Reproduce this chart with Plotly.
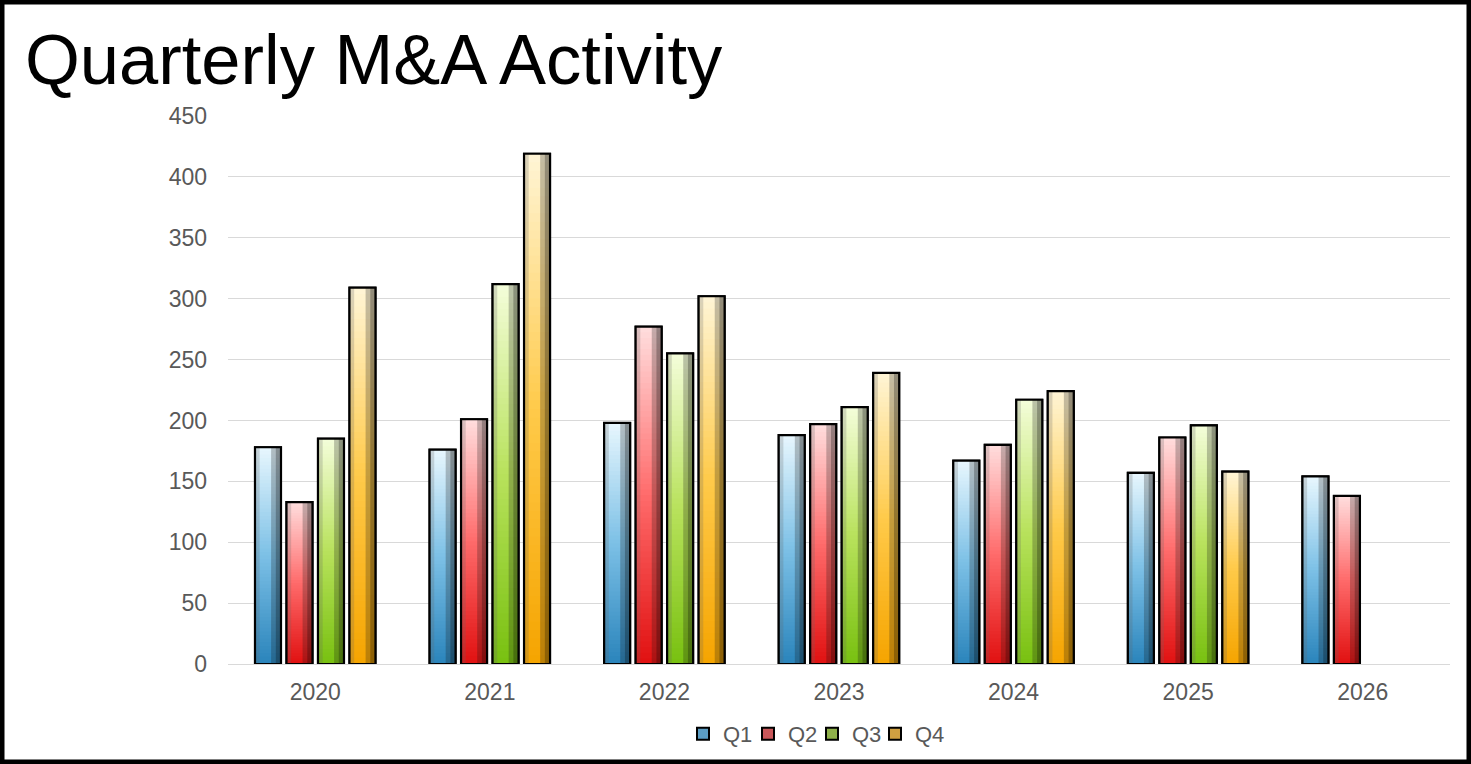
import plotly.graph_objects as go

# ---------------- data ----------------
years = ["2020", "2021", "2022", "2023", "2024", "2025", "2026"]
quarters = ["Q1", "Q2", "Q3", "Q4"]
q1 = [178, 176, 198, 188, 167, 157, 154]
q2 = [133, 201, 277, 197, 180, 186, 138]
q3 = [185, 312, 255, 211, 217, 196, None]
q4 = [309, 419, 302, 239, 224, 158, None]
y_ticks = [0, 50, 100, 150, 200, 250, 300, 350, 400, 450]
title_text = "Quarterly M&A Activity"

series = [q1, q2, q3, q4]

# ---------------- styling ----------------
# (bottom, middle, top) colours of the vertical gradient per quarter
palette = [
    ("#2a84bb", "#7cc0e6", "#e8f7fe"),
    ("#e01010", "#ff6b6b", "#ffdede"),
    ("#78c010", "#b8e25c", "#f4fdda"),
    ("#f5a400", "#ffca4a", "#fff5d6"),
]
legend_fill = ["#5b9dc4", "#c9575a", "#8fb04a", "#d0a041"]
legend_box_px = [697, 762, 826, 889]   # left edge of each legend swatch (px)

W, H = 1471, 764
ML, MR, MT, MB = 228, 21, 116, 100
PW, PH = W - ML - MR, H - MT - MB
BAR_W = 0.149
SLOT = 0.1804
FIRST = -0.3454
N_SEG = 60


def hex2rgb(h):
    h = h.lstrip("#")
    return tuple(int(h[i:i + 2], 16) for i in (0, 2, 4))


def mix(a, b, t):
    return tuple(a[i] + (b[i] - a[i]) * t for i in range(3))


def grad(stops, t):
    b, m, tp = (hex2rgb(s) for s in stops)
    if t < 0.5:
        c = mix(b, m, t / 0.5)
    else:
        c = mix(m, tp, (t - 0.5) / 0.5)
    return "rgb(%d,%d,%d)" % tuple(round(v) for v in c)


legend_ids = ["legend", "legend2", "legend3", "legend4"]
fig = go.Figure()

for k, (qname, vals) in enumerate(zip(quarters, series)):
    off = FIRST + k * SLOT
    # base bar (also provides the legend entry)
    fig.add_trace(go.Bar(
        x=years, y=vals, name=qname, offset=off, width=BAR_W,
        marker=dict(color=legend_fill[k], line=dict(color="black", width=2)),
        showlegend=True, legend=legend_ids[k], hoverinfo="skip",
    ))
    # vertical gradient bands
    for i in range(N_SEG):
        frac = i / N_SEG
        bases = [None if v is None else v * frac for v in vals]
        hts = [None if v is None else v * (1 - frac) for v in vals]
        t = (i + 0.5) / N_SEG
        fig.add_trace(go.Bar(
            x=years, y=hts, base=bases, offset=off, width=BAR_W,
            marker=dict(color=grad(palette[k], t), line=dict(width=0)),
            showlegend=False, hoverinfo="skip",
        ))
    # horizontal bevel shading
    shade = [
        (0.0, 0.18, "rgba(100,100,100,0.24)"),
        (0.62, 0.38, "rgba(20,20,20,0.25)"),
        (0.80, 0.20, "rgba(0,0,0,0.25)"),
    ]
    for s0, sw, col in shade:
        fig.add_trace(go.Bar(
            x=years, y=vals, offset=off + s0 * BAR_W, width=sw * BAR_W,
            marker=dict(color=col, line=dict(width=0)),
            showlegend=False, hoverinfo="skip",
        ))
    # outline on top
    fig.add_trace(go.Bar(
        x=years, y=vals, offset=off, width=BAR_W,
        marker=dict(color="rgba(0,0,0,0)", line=dict(color="black", width=2.2)),
        showlegend=False, hovertemplate=qname + " %{x}: %{y}<extra></extra>",
    ))

legend_common = dict(
    orientation="h", xref="container", yref="container", xanchor="left",
    y=1 - 734 / H, yanchor="middle", font=dict(size=22, color="#595959"),
    itemwidth=30, bgcolor="rgba(0,0,0,0)",
)
legend_layout = {
    lid: dict(legend_common, x=(px - 14) / W)
    for lid, px in zip(legend_ids, legend_box_px)
}

fig.update_layout(
    width=W, height=H,
    margin=dict(l=ML, r=MR, t=MT, b=MB, autoexpand=False),
    barmode="overlay",
    paper_bgcolor="white", plot_bgcolor="white",
    font=dict(family="Liberation Sans, Arial, sans-serif", color="#595959", size=23),
    title=dict(
        text=title_text,
        font=dict(family="Liberation Sans, Arial, sans-serif", size=70.5, color="black"),
        xref="container", yref="container",
        x=25 / W, xanchor="left", y=1 - 35 / H, yanchor="top",
        pad=dict(l=0, t=0, b=0, r=0),
    ),
    xaxis=dict(
        type="category", categoryorder="array", categoryarray=years,
        showgrid=False, showline=False, ticks="", zeroline=False,
        tickfont=dict(size=23, color="#595959"), ticklabelstandoff=12,
    ),
    yaxis=dict(
        range=[0, 450], tickvals=y_ticks, ticktext=[str(v) for v in y_ticks],
        showgrid=True, gridcolor="#d9d9d9", gridwidth=1,
        zeroline=True, zerolinecolor="#d9d9d9", zerolinewidth=1,
        showline=False, ticks="", tickfont=dict(size=23, color="#595959"),
        ticklabelstandoff=20,
    ),
    shapes=[dict(
        type="rect", xref="paper", yref="paper",
        x0=-ML / PW, x1=1 + MR / PW, y0=-MB / PH, y1=1 + MT / PH,
        line=dict(color="black", width=9), fillcolor="rgba(0,0,0,0)", layer="above",
    )],
    **legend_layout,
)

fig.write_html(
    "out.html",
    config={"displayModeBar": False},
    post_script="document.body.style.margin='0';document.body.style.overflow='hidden';",
)
